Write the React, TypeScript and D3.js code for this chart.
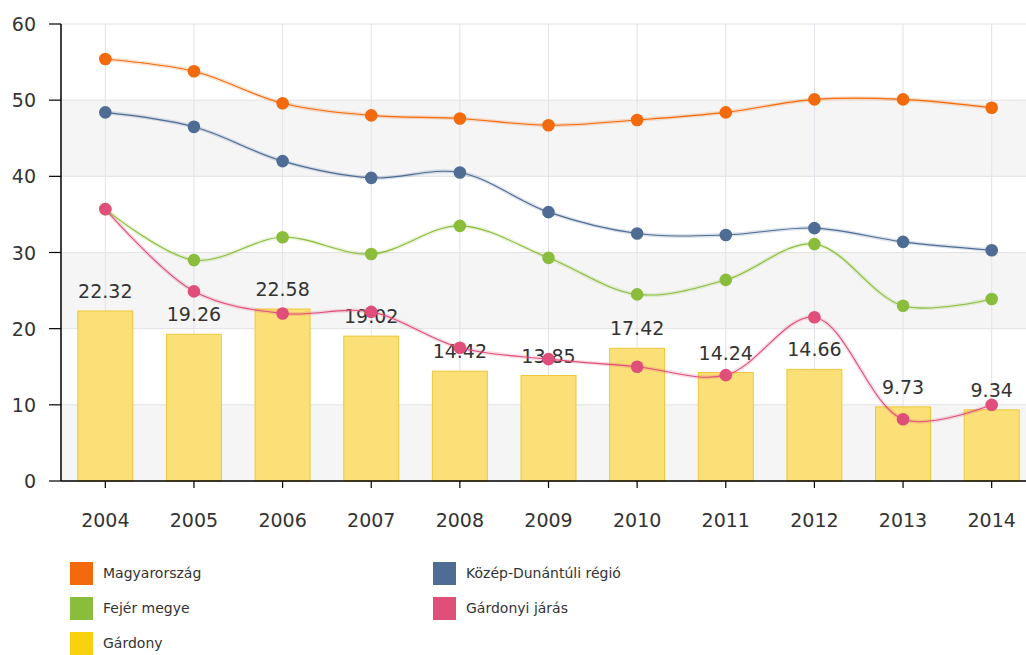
import React from "react";
import * as d3 from "d3";

const years = ["2004","2005","2006","2007","2008","2009","2010","2011","2012","2013","2014"];
const magyarorszag = [55.4,53.8,49.6,48.0,47.6,46.7,47.4,48.4,50.1,50.1,49.0];
const kozepDunantuli = [48.4,46.5,42.0,39.8,40.5,35.3,32.5,32.3,33.2,31.4,30.3];
const fejer = [35.7,29.0,32.0,29.8,33.5,29.3,24.5,26.4,31.1,23.0,23.9];
const gardonyiJaras = [35.7,24.9,22.0,22.2,17.5,16.0,15.0,13.9,21.5,8.1,10.0];
const gardony = [22.32,19.26,22.58,19.02,14.42,13.85,17.42,14.24,14.66,9.73,9.34];
const yTicks = [0,10,20,30,40,50,60];

const W = 1026, H = 655;
const left = 61, right = 1036, top = 24, bottom = 481;
const font = "'DejaVu Sans', Verdana, sans-serif";

const lineSeries = [
  { name: "Magyarország", values: magyarorszag, color: "#f26a0c" },
  { name: "Közép-Dunántúli régió", values: kozepDunantuli, color: "#4e6c94" },
  { name: "Fejér megye", values: fejer, color: "#8bbd3c" },
  { name: "Gárdonyi járás", values: gardonyiJaras, color: "#e04f7a" },
];
const legend = [
  { name: "Magyarország", color: "#f26a0c", col: 0, row: 0 },
  { name: "Közép-Dunántúli régió", color: "#4e6c94", col: 1, row: 0 },
  { name: "Fejér megye", color: "#8bbd3c", col: 0, row: 1 },
  { name: "Gárdonyi járás", color: "#e04f7a", col: 1, row: 1 },
  { name: "Gárdony", color: "#f8d10f", col: 0, row: 2 },
];

export default function App() {
  const x = d3.scaleBand<string>().domain(years).range([left, right]).paddingInner(0.38).paddingOuter(0.19);
  const xc = (d: string) => (x(d) as number) + x.bandwidth() / 2;
  const y = d3.scaleLinear().domain([0, 60]).range([bottom, top]);
  const line = d3.line<number>().x((_, i) => xc(years[i])).y(v => y(v)).curve(d3.curveCatmullRom.alpha(0.5));

  return (
    <svg width={W} height={H} style={{ position: "absolute", left: 0, top: 0, background: "#fff" }}>
      {yTicks.slice(0, -1).map((t, i) => (i % 2 === 0 ? (
        <rect key={"b" + t} x={left} y={y(t + 10)} width={right - left} height={y(t) - y(t + 10)} fill="#f5f5f6" />
      ) : null))}
      {yTicks.map(t => (
        <line key={"h" + t} x1={left} x2={right} y1={y(t)} y2={y(t)} stroke="#e2e2e2" strokeWidth={1} />
      ))}
      {years.map(yr => (
        <line key={"v" + yr} x1={xc(yr)} x2={xc(yr)} y1={top} y2={bottom} stroke="#e2e2e8" strokeWidth={1} />
      ))}
      {years.map((yr, i) => (
        <rect key={"bar" + yr} x={x(yr)} y={y(gardony[i])} width={x.bandwidth()} height={bottom - y(gardony[i])}
          fill="#fae077" stroke="#ecc83a" strokeWidth={1} />
      ))}
      {years.map((yr, i) => (
        <text key={"bl" + yr} x={xc(yr)} y={y(gardony[i]) - 13} textAnchor="middle" fontFamily={font} fontSize={19} fill="#333">
          {gardony[i].toFixed(2)}
        </text>
      ))}
      {lineSeries.map(s => (
        <g key={s.name}>
          <path d={line(s.values) || ""} fill="none" stroke={s.color} strokeOpacity={0.2} strokeWidth={4} />
          <path d={line(s.values) || ""} fill="none" stroke={s.color} strokeWidth={1.1} />
          {s.values.map((v, i) => (
            <circle key={i} cx={xc(years[i])} cy={y(v)} r={6.3} fill={s.color} />
          ))}
        </g>
      ))}
      <line x1={left} x2={left} y1={top} y2={bottom} stroke="#000" strokeWidth={1.5} />
      <line x1={left} x2={right} y1={bottom} y2={bottom} stroke="#000" strokeWidth={1.5} />
      {yTicks.map(t => (
        <g key={"yt" + t}>
          <line x1={left - 12} x2={left} y1={y(t)} y2={y(t)} stroke="#000" strokeWidth={1.2} />
          <text x={36} y={y(t) + 7} textAnchor="end" fontFamily={font} fontSize={19} fill="#333">{t}</text>
        </g>
      ))}
      {years.map(yr => (
        <g key={"xt" + yr}>
          <line x1={xc(yr)} x2={xc(yr)} y1={bottom} y2={bottom + 7} stroke="#000" strokeWidth={1.2} />
          <text x={xc(yr)} y={527} textAnchor="middle" fontFamily={font} fontSize={19} fill="#333">{yr}</text>
        </g>
      ))}
      {legend.map(l => (
        <g key={"lg" + l.name} transform={`translate(${l.col === 0 ? 70 : 433},${562 + l.row * 35})`}>
          <rect x={0} y={0} width={23} height={23} fill={l.color} />
          <text x={33} y={16} fontFamily={font} fontSize={14} fill="#333">{l.name}</text>
        </g>
      ))}
    </svg>
  );
}
